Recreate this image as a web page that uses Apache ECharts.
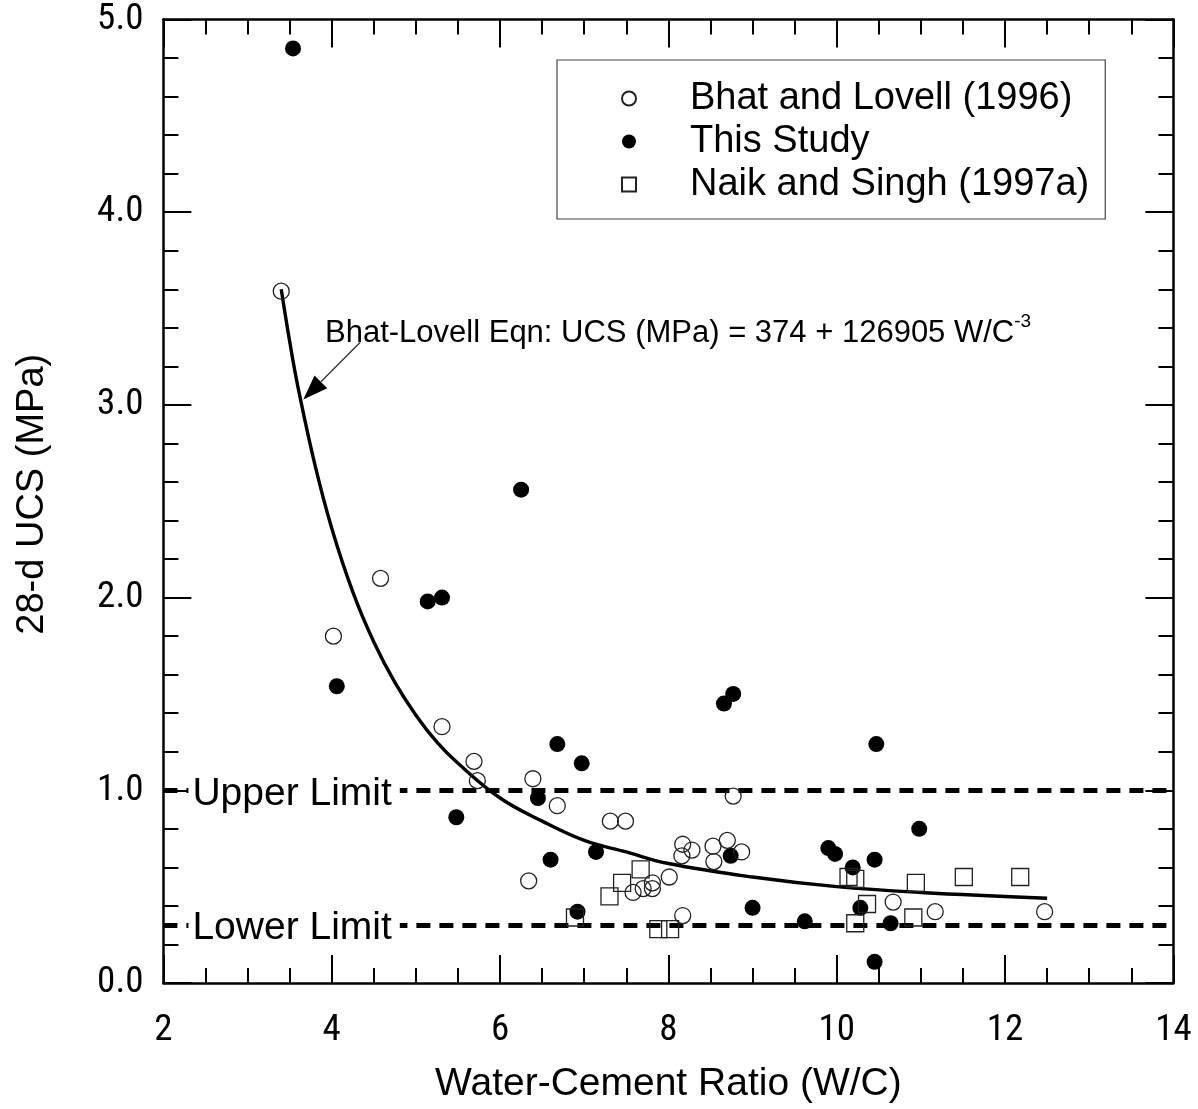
<!DOCTYPE html>
<html>
<head>
<meta charset="utf-8">
<script src="https://cdn.jsdelivr.net/npm/echarts@6/dist/echarts.min.js"></script>
<style>
html,body{margin:0;padding:0;background:#fff;}
#chart{width:1198px;height:1109px;}
</style>
</head>
<body>
<div id="chart"></div>
<script>
// ---- data ----
var bhatLovell = [
  [3.40, 3.59], [4.58, 2.10], [4.02, 1.80], [5.31, 1.33], [5.69, 1.15],
  [5.73, 1.05], [6.39, 1.06], [6.34, 0.53], [6.68, 0.92], [7.31, 0.84],
  [7.49, 0.84], [8.77, 0.97], [8.17, 0.72], [8.28, 0.69], [8.16, 0.66],
  [8.53, 0.71], [8.70, 0.74], [8.87, 0.68], [8.54, 0.63], [8.01, 0.55],
  [7.58, 0.47], [7.70, 0.49], [7.81, 0.52], [7.81, 0.49], [8.17, 0.35],
  [10.67, 0.42], [11.17, 0.37], [12.47, 0.37]
];
var thisStudy = [
  [3.54, 4.85], [6.25, 2.56], [5.14, 1.98], [5.31, 2.00], [4.06, 1.54],
  [8.77, 1.50], [8.66, 1.45], [10.47, 1.24], [6.68, 1.24], [6.97, 1.14],
  [5.48, 0.86], [6.45, 0.96], [6.60, 0.64], [7.14, 0.68], [8.74, 0.66],
  [6.92, 0.37], [9.00, 0.39], [9.62, 0.32], [9.90, 0.70], [9.98, 0.67],
  [10.19, 0.60], [10.45, 0.64], [10.98, 0.80], [10.28, 0.39], [10.64, 0.31],
  [10.45, 0.11]
];
var naikSingh = [
  [7.67, 0.59], [7.45, 0.52], [7.30, 0.45], [6.89, 0.34], [7.88, 0.28],
  [8.02, 0.28], [10.14, 0.55], [10.22, 0.54], [10.36, 0.41], [10.22, 0.31],
  [10.94, 0.52], [10.91, 0.34], [11.51, 0.55], [12.18, 0.55]
];
// Bhat-Lovell curve, points
var curveX = [3.4, 3.5, 3.6, 3.8, 4.0, 4.25, 4.5, 4.75, 5.0, 5.25, 5.5, 6.0, 6.5, 7.0, 7.5, 8.0, 9.0, 10.0, 11.0, 12.5];
var curveY = [3.60, 3.33, 3.09, 2.69, 2.36, 2.03, 1.77, 1.56, 1.39, 1.25, 1.14, 0.96, 0.84, 0.74, 0.68, 0.62, 0.55, 0.50, 0.47, 0.44];
var limitNames = ['Upper Limit', 'Lower Limit'];
var limitValues = [1.0, 0.3];
var seriesNames = ['Bhat and Lovell (1996)', 'This Study', 'Naik and Singh (1997a)'];
var xTicks = {min: 2, max: 14, interval: 2};
var yTicks = {min: 0, max: 5, interval: 1};
var arrowFrom = [4.336, 3.324];
var arrowTo = [3.662, 3.028];

var FONT = 'Liberation Sans, Arial, Helvetica, sans-serif';

// pick a condensed face for tick labels if one is installed
function hasFont(name) {
  var c = document.createElement('canvas').getContext('2d');
  var s = 'mmmwwwiii0123456789.';
  c.font = '40px monospace'; var a = c.measureText(s).width;
  c.font = '40px "' + name + '", monospace'; var b = c.measureText(s).width;
  c.font = '40px serif'; var a2 = c.measureText(s).width;
  c.font = '40px "' + name + '", serif'; var b2 = c.measureText(s).width;
  return a !== b || a2 !== b2;
}
var narrowCandidates = ['Liberation Sans Narrow', 'Arial Narrow', 'Noto Sans Condensed', 'Roboto Condensed', 'Open Sans Condensed'];
var TICKFONT = FONT, TICKSIZE = 33;
for (var k = 0; k < narrowCandidates.length; k++) {
  if (hasFont(narrowCandidates[k])) { TICKFONT = '"' + narrowCandidates[k] + '", ' + FONT; TICKSIZE = 37; break; }
}

var chart = echarts.init(document.getElementById('chart'));
var curveData = curveX.map(function (x, i) { return [x, curveY[i]]; });

function axisCommon() {
  return {
    axisLine: {show: true, onZero: false, lineStyle: {color: '#000', width: 2.5}},
    axisTick: {show: true, inside: true, length: 28, lineStyle: {color: '#000', width: 2}},
    minorTick: {show: true, length: 15, lineStyle: {color: '#000', width: 2}},
    splitLine: {show: false},
    minorSplitLine: {show: false}
  };
}

var xBottom = Object.assign(axisCommon(), {
  type: 'value', position: 'bottom', min: xTicks.min, max: xTicks.max, interval: xTicks.interval,
  name: 'Water-Cement Ratio (W/C)', nameLocation: 'middle', nameGap: 82,
  nameTextStyle: {fontFamily: FONT, fontSize: 39, color: '#000'},
  axisLabel: {show: true, margin: 29, fontFamily: TICKFONT, fontSize: TICKSIZE, color: '#000'}
});
xBottom.minorTick.splitNumber = 4;
var xTop = Object.assign(axisCommon(), {
  type: 'value', position: 'top', min: xTicks.min, max: xTicks.max, interval: xTicks.interval,
  axisLabel: {show: false}
});
xTop.minorTick.splitNumber = 4;
var yLeft = Object.assign(axisCommon(), {
  type: 'value', position: 'left', min: yTicks.min, max: yTicks.max, interval: yTicks.interval,
  name: '28-d UCS (MPa)', nameLocation: 'middle', nameGap: 112, nameRotate: 90,
  nameTextStyle: {fontFamily: FONT, fontSize: 38, color: '#000', padding: [0, 0, 0, 14]},
  axisLabel: {show: true, margin: 20, fontFamily: TICKFONT, fontSize: TICKSIZE, color: '#000',
    formatter: function (v) { return v.toFixed(1); }}
});
yLeft.minorTick.splitNumber = 5;
var yRight = Object.assign(axisCommon(), {
  type: 'value', position: 'right', min: yTicks.min, max: yTicks.max, interval: yTicks.interval,
  axisLabel: {show: false}
});
yRight.minorTick.splitNumber = 5;

var limitLines = limitValues.map(function (v, i) {
  return {
    yAxis: v,
    label: {
      show: true, formatter: limitNames[i], position: 'insideStartTop',
      distance: [25, -23], fontFamily: FONT, fontSize: 39, color: '#000',
      backgroundColor: '#fff', padding: [0, 8, 0, 4]
    }
  };
});

var eqText = {
  type: 'text', left: 325, top: 312, z: 100,
  style: {
    text: '{m|Bhat-Lovell Eqn: UCS (MPa) = 374 + 126905 W/C}{s|-3}',
    rich: {
      m: {fontFamily: FONT, fontSize: 31, fill: '#000', verticalAlign: 'bottom'},
      s: {fontFamily: FONT, fontSize: 19, fill: '#000', padding: [0, 0, 18, 0], verticalAlign: 'bottom'}
    }
  }
};

var option = {
  animation: false,
  backgroundColor: '#fff',
  grid: {left: 163.4, right: 24.6, top: 19.5, bottom: 124.5, containLabel: false},
  xAxis: [xBottom, xTop],
  yAxis: [yLeft, yRight],
  legend: {
    show: true, orient: 'vertical', left: 557, top: 60,
    data: [
      {name: seriesNames[0], icon: 'circle'},
      {name: seriesNames[1], icon: 'circle'},
      {name: seriesNames[2], icon: 'rect'}
    ],
    itemWidth: 14, itemHeight: 14, itemGap: 4,
    padding: [19, 16, 15, 64],
    borderColor: '#444', borderWidth: 1.2,
    textStyle: {fontFamily: FONT, fontSize: 38, lineHeight: 39, color: '#000', padding: [0, 0, 0, 49]},
    selectedMode: false
  },
  graphic: [eqText],
  series: [
    {
      name: 'Limits', type: 'line', data: [], xAxisIndex: 0, yAxisIndex: 0, silent: true,
      markLine: {
        silent: true, symbol: ['none', 'none'], animation: false,
        lineStyle: {color: '#000', width: 5, type: [14, 9]},
        data: limitLines
      }
    },
    {
      name: 'curve', type: 'line', data: curveData, smooth: 0.4, showSymbol: false, symbol: 'none',
      lineStyle: {color: '#000', width: 3.4}, z: 3, silent: true
    },
    {
      name: seriesNames[1], type: 'scatter', data: thisStudy, symbol: 'circle', symbolSize: 16,
      itemStyle: {color: '#000', opacity: 1, borderWidth: 0}, z: 4
    },
    {
      name: seriesNames[0], type: 'scatter', data: bhatLovell, symbol: 'circle', symbolSize: 16,
      itemStyle: {color: 'rgba(255,255,255,0)', opacity: 1, borderColor: '#222', borderWidth: 1.3}, z: 5
    },
    {
      name: seriesNames[2], type: 'scatter', data: naikSingh, symbol: 'rect', symbolSize: 17,
      itemStyle: {color: 'rgba(255,255,255,0)', opacity: 1, borderColor: '#222', borderWidth: 1.3}, z: 5
    }
  ]
};
chart.setOption(option);

// Annotation arrow pointing at the curve (positions from axis scale)
var p0 = chart.convertToPixel({gridIndex: 0}, arrowFrom);
var p1 = chart.convertToPixel({gridIndex: 0}, arrowTo);
var dx = p1[0] - p0[0], dy = p1[1] - p0[1];
var len = Math.sqrt(dx * dx + dy * dy);
var ux = dx / len, uy = dy / len;
var headLen = 25, headHalf = 9;
var bx = p1[0] - ux * headLen, by = p1[1] - uy * headLen;
var nx = -uy, ny = ux;
chart.setOption({
  graphic: [
    eqText,
    {
      type: 'line', z: 100, silent: true,
      shape: {x1: p0[0], y1: p0[1], x2: bx, y2: by},
      style: {stroke: '#333', lineWidth: 1.3}
    },
    {
      type: 'polygon', z: 100, silent: true,
      shape: {points: [[p1[0], p1[1]], [bx + nx * headHalf, by + ny * headHalf], [bx - nx * headHalf, by - ny * headHalf]]},
      style: {fill: '#000'}
    }
  ]
}, {replaceMerge: ['graphic']});
</script>
</body>
</html>
